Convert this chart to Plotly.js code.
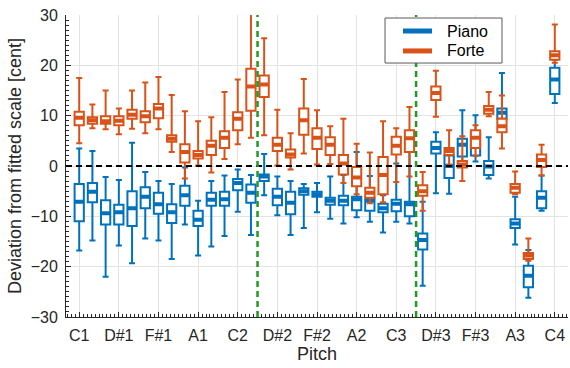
<!DOCTYPE html>
<html>
<head>
<meta charset="utf-8">
<script src="https://cdn.plot.ly/plotly-3.0.1.min.js"></script>
<style>
html,body{margin:0;padding:0;background:#fff;}
#chart{width:570px;height:368px;}
</style>
</head>
<body>
<div id="chart"></div>
<script>
// Pitch names (index = semitones above C1)
const pitches = ["C1","C#1","D1","D#1","E1","F1","F#1","G1","G#1","A1","A#1","B1",
                 "C2","C#2","D2","D#2","E2","F2","F#2","G2","G#2","A2","A#2","B2",
                 "C3","C#3","D3","D#3","E3","F3","F#3","G3","G#3","A3","A#3","B3","C4"];
const tickLabels = ["C1","D#1","F#1","A1","C2","D#2","F#2","A2","C3","D#3","F#3","A3","C4"];
const registerBreaks = [13.5, 25.5];
const seriesNames = ["Piano", "Forte"];

// Piano (blue) box statistics [cent]
const pianoHigh = [3.5,3.0,-2.2,-2.8,4.6,-1.2,-3.0,-3.6,-0.3,-6.9,-3.0,-1.9,
                   -0.7,-1.8,2.4,-2.1,-3.0,-3.6,-3.4,-2.1,-1.8,2.8,-2.0,-5.8,
                   0.5,4.9,-7.1,6.7,3.6,11.1,10.1,5.7,18.5,-6.1,-16.7,-1.9,21.1];
const pianoQ3   = [-3.6,-3.4,-6.8,-7.7,-5.0,-4.2,-5.3,-7.6,-3.9,-8.9,-5.3,-5.1,
                   -2.6,-3.7,-1.7,-4.5,-5.1,-4.4,-5.1,-6.3,-5.9,-6.1,-6.3,-7.5,
                   -6.7,-7.1,-13.4,4.8,2.1,5.4,6.4,1.0,11.4,-10.6,-19.8,-5.0,19.5];
const pianoMed  = [-7.1,-5.1,-9.4,-9.2,-8.4,-6.1,-7.6,-9.2,-5.8,-10.7,-6.7,-6.6,
                   -3.4,-5.3,-2.1,-6.1,-7.3,-5.0,-5.6,-6.9,-6.9,-6.6,-6.9,-8.4,
                   -7.5,-7.6,-14.7,3.6,0.0,4.2,4.2,-0.1,10.6,-11.4,-21.8,-6.3,17.2];
const pianoQ1   = [-11.0,-7.2,-11.6,-11.6,-11.9,-8.4,-9.5,-11.3,-7.9,-11.9,-7.9,-7.9,
                   -4.8,-7.3,-3.0,-7.8,-9.6,-5.7,-6.1,-7.7,-7.8,-8.8,-8.9,-9.2,
                   -9.0,-10.0,-16.6,2.5,-2.4,1.9,2.1,-1.8,9.4,-12.3,-24.1,-8.4,14.3];
const pianoLow  = [-16.8,-14.8,-22.0,-15.8,-19.3,-14.4,-14.8,-18.5,-11.6,-17.8,-16.0,-13.9,
                   -9.1,-13.7,-5.8,-9.8,-13.7,-12.3,-9.2,-10.5,-11.4,-10.2,-11.1,-13.2,
                   -11.1,-11.4,-23.8,-5.4,-5.5,0.5,0.9,-2.5,8.5,-15.6,-26.2,-8.9,12.5];

// Forte (orange) box statistics [cent]
const forteHigh = [17.5,12.2,15.0,11.4,15.0,16.6,17.7,14.1,10.9,8.9,9.7,14.7,
                   17.2,33.0,25.4,11.2,6.5,17.3,11.1,7.9,9.4,4.4,2.7,8.9,
                   7.5,11.7,-1.2,18.9,7.1,5.9,8.1,14.7,14.0,-1.1,-14.4,4.2,28.1];
const forteQ3   = [10.8,9.7,9.9,9.9,11.2,10.9,12.3,6.1,4.3,3.0,5.0,6.9,
                   10.7,19.3,18.0,5.6,3.3,11.4,7.5,5.7,2.2,-0.2,-4.3,1.8,
                   5.8,7.1,-3.8,15.8,3.6,1.0,7.1,11.9,9.4,-3.6,-17.3,2.3,22.8];
const forteMed  = [9.6,9.1,8.9,9.0,10.2,9.9,11.4,5.4,2.8,2.2,4.0,5.6,
                   9.4,15.8,16.2,4.2,2.3,9.1,5.6,4.2,0.5,-2.3,-5.3,-1.8,
                   4.0,5.5,-5.0,14.5,3.0,0.3,5.6,11.2,7.9,-4.3,-17.8,1.2,22.0];
const forteQ1   = [8.1,8.4,8.4,8.1,9.4,8.7,9.5,4.8,0.7,1.5,2.2,3.6,
                   7.1,11.0,13.7,3.0,1.7,6.2,3.4,2.2,-1.7,-4.0,-6.3,-5.6,
                   2.3,2.8,-5.9,13.1,2.2,-0.3,3.6,10.4,6.7,-5.3,-18.5,-0.2,21.1];
const forteLow  = [4.5,7.5,7.3,6.3,7.4,6.5,7.3,2.8,-2.5,0.1,-1.3,1.4,
                   4.3,5.6,6.1,0.1,-0.7,2.5,0.3,0.4,-3.4,-5.6,-7.4,-7.2,
                   -3.2,-2.1,-8.9,9.8,0.3,-3.0,2.0,9.9,3.5,-5.6,-18.8,-1.9,20.5];

const BLUE = "#0072BD", ORANGE = "#D95319";
const xIdx = pitches.map((p, i) => i);
const tickVals = tickLabels.map(t => pitches.indexOf(t));

function boxTrace(name, color, high, q3, med, q1, low) {
  return {
    type: "box", name: name, x: xIdx,
    q1: q1, median: med, q3: q3, lowerfence: low, upperfence: high,
    width: 0.7, whiskerwidth: 0.65, boxpoints: false,
    line: {color: color, width: 2}, fillcolor: "#ffffff",
    showlegend: false, hoverinfo: "skip"
  };
}
function medianTrace(name, color, med) {
  return {
    type: "box", name: name + " median", x: xIdx,
    q1: med, median: med, q3: med, lowerfence: med, upperfence: med,
    width: 0.7, whiskerwidth: 0, boxpoints: false,
    line: {color: color, width: 4}, fillcolor: color,
    showlegend: false, hoverinfo: "skip"
  };
}

const data = [
  boxTrace(seriesNames[0], BLUE, pianoHigh, pianoQ3, pianoMed, pianoQ1, pianoLow),
  medianTrace(seriesNames[0], BLUE, pianoMed),
  boxTrace(seriesNames[1], ORANGE, forteHigh, forteQ3, forteMed, forteQ1, forteLow),
  medianTrace(seriesNames[1], ORANGE, forteMed)
];

const FONT = "Liberation Sans, Arial, sans-serif";
const AX = "#262626";

// Legend drawn as a framed box in paper coordinates (MATLAB style line samples)
const legendBox = {x0: 0.6355, x1: 0.8685, y0: 0.841, y1: 0.990};
const legendRows = [0.947, 0.881];
const legendColors = [BLUE, ORANGE];

const shapes = [
  {type: "line", xref: "paper", yref: "y", x0: 0, x1: 1, y0: 0, y1: 0,
   line: {color: "#000000", width: 2, dash: "6px,4px"}}
].concat(registerBreaks.map(b => ({
  type: "line", xref: "x", yref: "paper", x0: b, x1: b, y0: 0, y1: 1,
  line: {color: "rgb(34,153,34)", width: 2.5, dash: "6px,4px"}
}))).concat([
  {type: "rect", xref: "paper", yref: "paper", x0: legendBox.x0, x1: legendBox.x1,
   y0: legendBox.y0, y1: legendBox.y1, fillcolor: "#ffffff",
   line: {color: "#5a5a5a", width: 1}}
]).concat(legendRows.map((r, i) => ({
  type: "line", xref: "paper", yref: "paper", x0: 0.6713, x1: 0.7291, y0: r, y1: r,
  line: {color: legendColors[i], width: 5}
})));

const annotations = legendRows.map((r, i) => ({
  xref: "paper", yref: "paper", x: 0.755, y: r, xanchor: "left", yanchor: "middle",
  text: seriesNames[i], showarrow: false,
  font: {family: FONT, size: 16, color: "#000000"}
}));

const layout = {
  width: 570, height: 368,
  margin: {l: 66, r: 2, t: 15, b: 51},
  paper_bgcolor: "#ffffff", plot_bgcolor: "#ffffff",
  font: {family: FONT, color: AX, size: 16},
  boxmode: "overlay",
  showlegend: false,
  xaxis: {
    range: [-1, 37], tickmode: "array", tickvals: tickVals, ticktext: tickLabels,
    showgrid: true, gridcolor: "#e3e3e3", gridwidth: 1, zeroline: false,
    showline: true, linecolor: AX, linewidth: 1,
    ticks: "inside", ticklen: 5, tickcolor: AX, ticklabelstandoff: 4,
    minor: {dtick: 0.3, tick0: 0, ticks: "inside", ticklen: 3, tickcolor: AX, showgrid: false},
    tickfont: {family: FONT, size: 16, color: AX},
    title: {text: "Pitch", font: {family: FONT, size: 18, color: AX}, standoff: 4}
  },
  yaxis: {
    range: [-30, 30], tickmode: "linear", tick0: -30, dtick: 10,
    showgrid: true, gridcolor: "#e3e3e3", gridwidth: 1, zeroline: false,
    showline: true, linecolor: AX, linewidth: 1,
    ticks: "inside", ticklen: 5, tickcolor: AX,
    minor: {dtick: 1, tick0: 0, ticks: "inside", ticklen: 3, tickcolor: AX, showgrid: false},
    tickfont: {family: FONT, size: 16, color: AX}, ticklabelstandoff: 4,
    title: {text: "Deviation from fitted scale [cent]", font: {family: FONT, size: 18, color: AX}, standoff: 4}
  },
  shapes: shapes,
  annotations: annotations
};

Plotly.newPlot("chart", data, layout, {staticPlot: true, displayModeBar: false});
</script>
</body>
</html>
